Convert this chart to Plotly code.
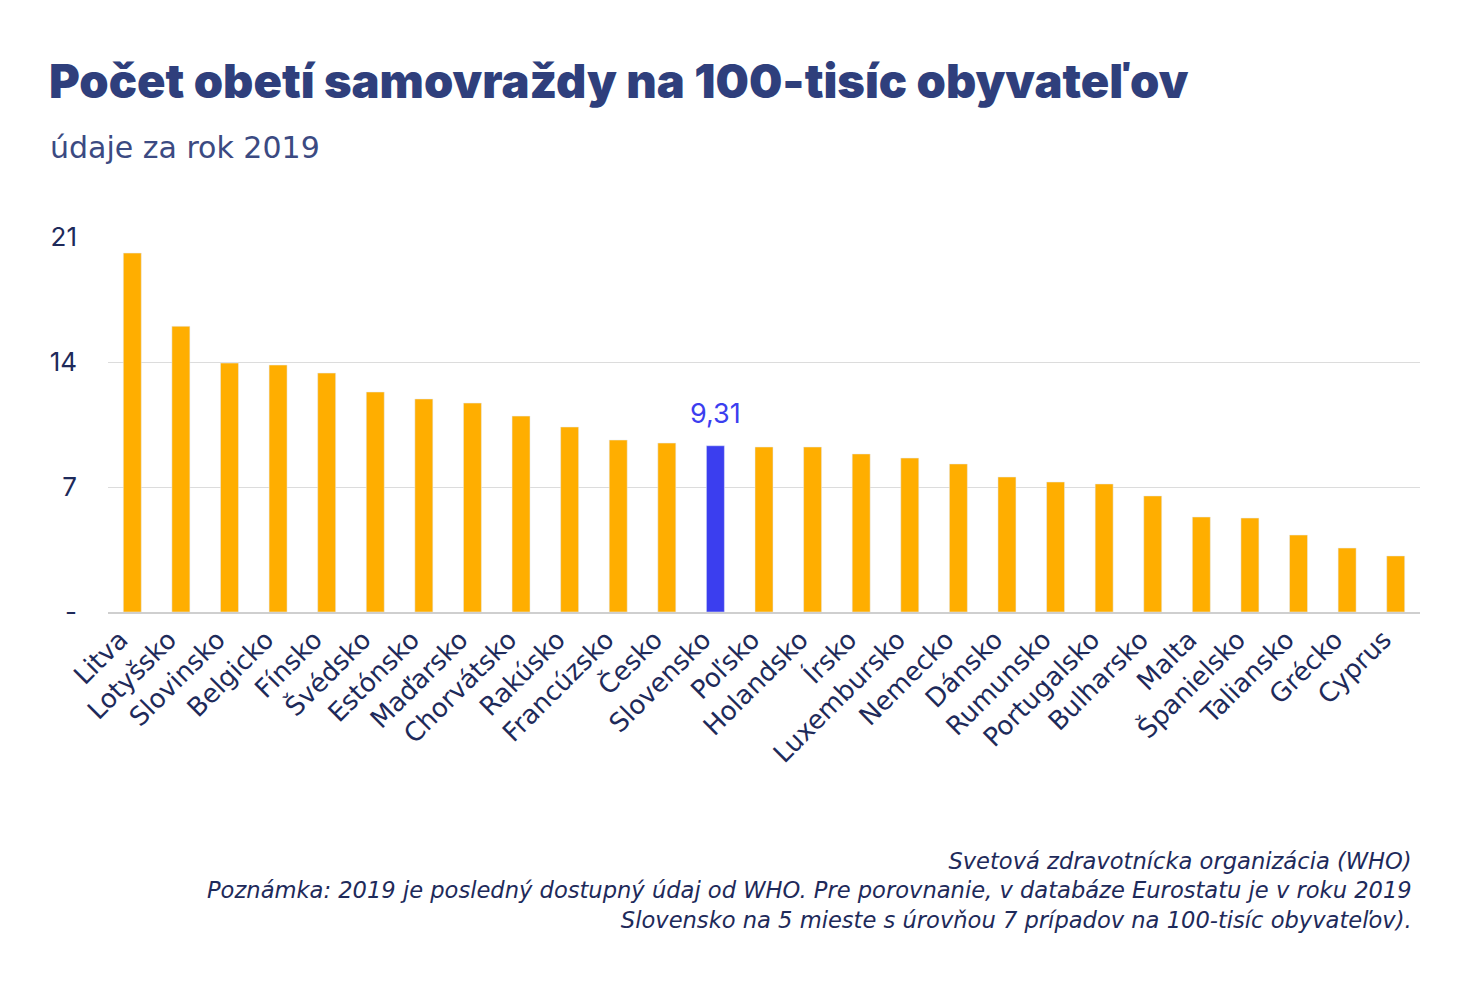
import plotly.graph_objects as go

countries = ["Litva", "Lotyšsko", "Slovinsko", "Belgicko", "Fínsko", "Švédsko", "Estónsko",
             "Maďarsko", "Chorvátsko", "Rakúsko", "Francúzsko", "Česko", "Slovensko", "Poľsko",
             "Holandsko", "Írsko", "Luxembursko", "Nemecko", "Dánsko", "Rumunsko", "Portugalsko",
             "Bulharsko", "Malta", "Španielsko", "Taliansko", "Grécko", "Cyprus"]
values = [20.1, 16.0, 13.94, 13.83, 13.38, 12.32, 11.93, 11.70, 10.97, 10.36, 9.63, 9.46, 9.31,
          9.24, 9.24, 8.85, 8.62, 8.29, 7.56, 7.28, 7.17, 6.5, 5.32, 5.26, 4.31, 3.58, 3.14]
highlight = "Slovensko"
highlight_label = "9,31"
y_ticks = [0, 7, 14, 21]
y_tick_labels = ["-", "7", "14", "21"]

ORANGE = "#FFAE00"
BLUE = "#3B3EEF"
NAVY = "#1E2A5A"
TITLE_C = "#2F3F7C"
LABEL_FONT = "DejaVu Sans"

colors = [BLUE if c == highlight else ORANGE for c in countries]

fig = go.Figure(go.Bar(x=countries, y=values, marker_color=colors, width=0.37,
                       hoverinfo="x+y"))

fig.add_annotation(x=highlight, y=values[countries.index(highlight)], text=highlight_label,
                   showarrow=False, yshift=32, font=dict(size=27, color=BLUE, family="Inter"))

fig.update_layout(
    width=1481, height=987,
    margin=dict(l=108, r=61, t=237, b=375),
    paper_bgcolor="white", plot_bgcolor="white",
    showlegend=False,
    title=dict(text="Počet obetí samovraždy na 100-tisíc obyvateľov",
               x=49/1481, xanchor="left", xref="container", yref="container",
               y=1 - 82/987, yanchor="middle",
               font=dict(family="Inter", size=47, weight=900, color=TITLE_C)),
    font=dict(family="Inter", color=NAVY),
)

fig.add_annotation(xref="paper", yref="paper", x=-60/1312, y=1 + (237 - 147) / 375,
                   xanchor="left", yanchor="middle", showarrow=False,
                   text="údaje za rok 2019", font=dict(family=LABEL_FONT, size=30, color="#3B4A82"))

notes = ["Svetová zdravotnícka organizácia (WHO)",
         "Poznámka: 2019 je posledný dostupný údaj od WHO. Pre porovnanie, v databáze Eurostatu je v roku 2019",
         "Slovensko na 5 mieste s úrovňou 7 prípadov na 100-tisíc obyvateľov)."]
fig.add_annotation(xref="paper", yref="paper", x=(1414 - 108) / 1312, y=-(846 - 612) / 375,
                   xanchor="right", yanchor="top", align="right", showarrow=False,
                   text="<br>".join(notes),
                   font=dict(family=LABEL_FONT, size=22.6, style="italic", color=NAVY))

fig.update_xaxes(tickangle=-45, tickfont=dict(size=26, color=NAVY, family=LABEL_FONT),
                 showgrid=False, showline=True, linecolor="#CFCFCF", linewidth=2,
                 ticks="", ticklabelshift=-12, range=[-0.5, len(countries) - 0.5])
fig.update_yaxes(range=[0, 21], tickvals=y_ticks, ticktext=y_tick_labels,
                 tickfont=dict(size=26, color=NAVY, family="Inter"),
                 showgrid=True, gridcolor="#DCDCDC", gridwidth=1, zeroline=False,
                 ticklabelstandoff=30, showline=False)

fig.write_html("out.html")
